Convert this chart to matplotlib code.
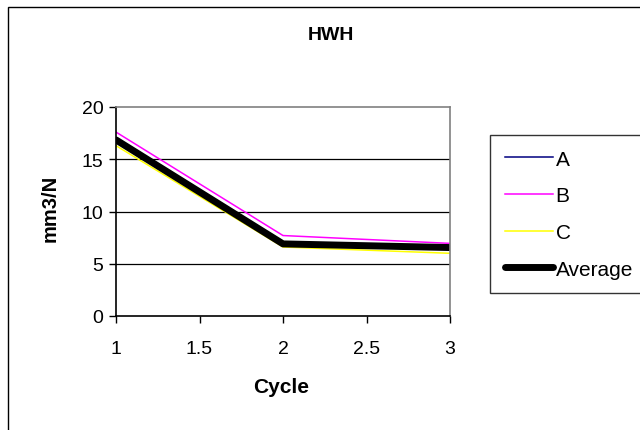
import matplotlib.pyplot as plt
from matplotlib.patches import Rectangle

plt.rcParams['font.family'] = ['Liberation Sans', 'DejaVu Sans']

# data
cycle = [1, 2, 3]
a_vals = [16.8, 6.85, 6.6]
b_vals = [17.6, 7.7, 6.95]
c_vals = [16.3, 6.6, 6.0]
avg_vals = [16.85, 6.9, 6.55]

x_ticks = [1, 1.5, 2, 2.5, 3]
x_ticklabels = ['1', '1.5', '2', '2.5', '3']
y_ticks = [0, 5, 10, 15, 20]

W, H = 640, 431
fig = plt.figure(figsize=(W / 100, H / 100), dpi=100)

# outer chart border
fig.patches.append(Rectangle((8 / W, -0.05), 1.0, 1 - 8 / H + 0.05,
                             transform=fig.transFigure, fill=False,
                             edgecolor='black', linewidth=1.0))

ax = fig.add_axes([116 / W, 1 - 317 / H, (450 - 116) / W, (317 - 108) / H])

ax.plot(cycle, a_vals, color='#000080', linewidth=1.1, label='A')
ax.plot(cycle, b_vals, color='#FF00FF', linewidth=1.1, label='B')
ax.plot(cycle, c_vals, color='#FFFF00', linewidth=1.1, label='C')
ax.plot(cycle, avg_vals, color='black', linewidth=5, label='Average',
        solid_capstyle='round')

ax.set_xlim(1, 3)
ax.set_ylim(0, 20)
ax.set_xticks(x_ticks)
ax.set_xticklabels(x_ticklabels)
ax.set_yticks(y_ticks)
ax.tick_params(axis='both', direction='out', length=5, width=1,
               labelsize=14, colors='black')
ax.tick_params(axis='x', pad=12)
ax.tick_params(axis='y', pad=4)

for y in [5, 10, 15]:
    ax.axhline(y, color='black', linewidth=0.9, zorder=0)

ax.spines['left'].set_color('black')
ax.spines['bottom'].set_color('black')
ax.spines['top'].set_color('#808080')
ax.spines['right'].set_color('#808080')
for s in ax.spines.values():
    s.set_linewidth(1.2)

# axis labels and title placed in figure pixels
fig.text(281 / W, 1 - 388 / H, 'Cycle', fontsize=15, fontweight='bold',
         ha='center', va='center')
fig.text(50 / W, 1 - 208 / H, 'mm3/N', fontsize=14.5, fontweight='bold',
         ha='center', va='center', rotation=90)
fig.text(331 / W, 1 - 36 / H, 'HWH', fontsize=14, fontweight='bold',
         ha='center', va='center')

leg = ax.legend(loc='upper left', bbox_to_anchor=(490 / W, 1 - 136 / H),
                bbox_transform=fig.transFigure, fontsize=15,
                frameon=True, fancybox=False, edgecolor='black',
                handlelength=2.3, handletextpad=0.15, labelspacing=0.85,
                borderpad=0.7, borderaxespad=0)
leg.get_frame().set_linewidth(1.0)

fig.savefig('out.png', dpi=100)
